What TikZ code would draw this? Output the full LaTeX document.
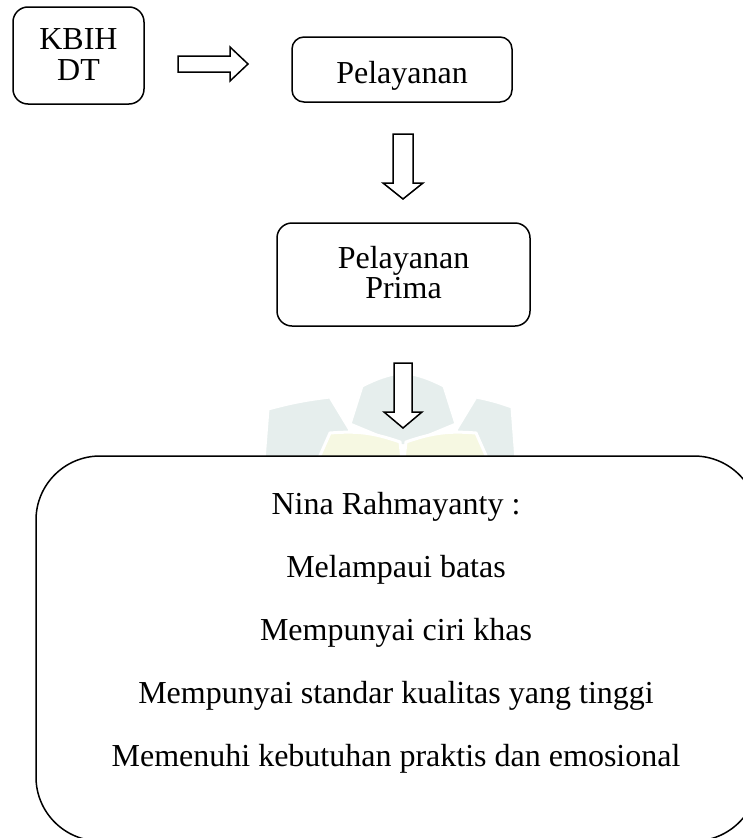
\documentclass[tikz,border=0pt]{standalone}
\usepackage{fontspec}
\setmainfont{Liberation Serif}
\definecolor{wmgray}{HTML}{E6EEED}
\definecolor{wmyellow}{HTML}{F6F8E2}
\begin{document}
\begin{tikzpicture}[x=1pt,y=-1pt,
  box/.style={draw, line width=1.5pt, inner sep=0pt, fill=white},
  txt/.style={inner sep=0pt, anchor=base, font=\fontsize{32}{31}\selectfont},
  blockarrow/.style={draw, line width=1.5pt, fill=white, line join=miter},
  wmg/.style={fill=wmgray, draw=white, line width=3pt},
  wmy/.style={fill=wmyellow, draw=white, line width=3pt}]
\useasboundingbox (0,0) rectangle (743,838);
\clip (0,0) rectangle (743,838);
% faint watermark
\filldraw[wmg] (264,460) -- (268,409) to[bend left=4] (330,397) -- (350,430) -- (334,460) -- cycle;
\filldraw[wmg] (350,424) -- (362,386) to[bend left=8] (403,372) to[bend left=8] (444,386) -- (456,424) -- (403,446) -- cycle;
\filldraw[wmg] (472,460) -- (456,430) -- (476,397) to[bend left=4] (512,407) -- (516,460) -- cycle;
\filldraw[wmy] (318,460) -- (330,433) to[bend left=12] (400,442) -- (402,460) -- cycle;
\filldraw[wmy] (404,460) -- (406,442) to[bend left=12] (476,433) -- (488,460) -- cycle;
% boxes
\node[box, rounded corners=15pt, minimum width=131pt, minimum height=97pt] (kbih) at (78.5,55.5) {};
\node[txt] (kbihA) at (78.5,49) {KBIH};
\node[txt] (kbihB) at (78.5,80) {DT};
\node[box, rounded corners=12pt, minimum width=220pt, minimum height=65pt] (pel) at (402,69.5) {};
\node[txt] (pelA) at (402,83) {Pelayanan};
\node[box, rounded corners=15pt, minimum width=253pt, minimum height=103pt] (prima) at (403.5,274.5) {};
\node[txt] (primaA) at (403.5,268) {Pelayanan};
\node[txt] (primaB) at (403.5,298) {Prima};
\node[box, rounded corners=64pt, minimum width=722pt, minimum height=385pt] (big) at (397,648.5) {};
\node[txt] (l1) at (396,514) {Nina Rahmayanty :};
\node[txt] (l2) at (396,577) {Melampaui batas};
\node[txt] (l3) at (396,640) {Mempunyai ciri khas};
\node[txt] (l4) at (396,703) {Mempunyai standar kualitas yang tinggi};
\node[txt] (l5) at (396,766) {Memenuhi kebutuhan praktis dan emosional};
% block arrows
\draw[blockarrow] (178,56) -- (230,56) -- (230,47) -- (248,64) -- (230,81) -- (230,72) -- (178,72) -- cycle;
\draw[blockarrow] (393,134) -- (413,134) -- (413,183) -- (423,183) -- (403,199) -- (383,183) -- (393,183) -- cycle;
\draw[blockarrow] (394,363) -- (412,363) -- (412,412) -- (422,412) -- (403,428) -- (384,412) -- (394,412) -- cycle;
\end{tikzpicture}
\end{document}
